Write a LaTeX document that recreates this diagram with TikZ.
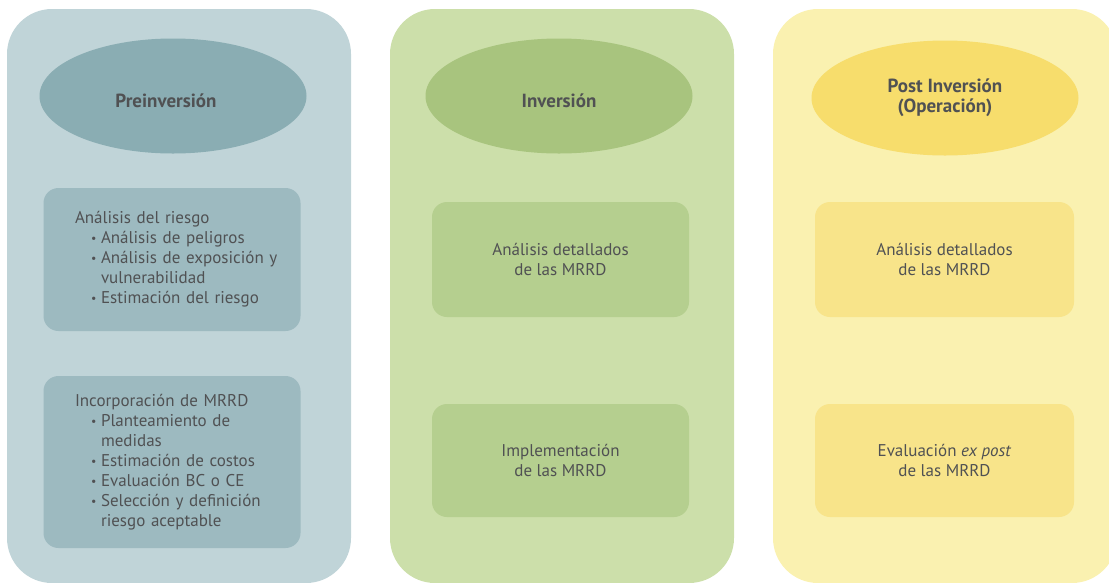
\documentclass[tikz,border=0pt]{standalone}
\usepackage{fontspec}
\setmainfont{PT Sans}
\usetikzlibrary{shapes.geometric}
\definecolor{prebg}{HTML}{C0D4D8}
\definecolor{preel}{HTML}{8AADB3}
\definecolor{prebox}{HTML}{9DBAC0}
\definecolor{invbg}{HTML}{CCDFAA}
\definecolor{invel}{HTML}{A8C47E}
\definecolor{invbox}{HTML}{B5CF8F}
\definecolor{postbg}{HTML}{FAF1B0}
\definecolor{postel}{HTML}{F7DD6C}
\definecolor{postbox}{HTML}{F8E48A}
\definecolor{txt}{HTML}{505153}
\newcommand{\itm}[1]{\hspace*{16pt}\makebox[10pt][l]{\raisebox{1pt}{\scalebox{0.7}{\textbullet}}}\mbox{#1}}
\newcommand{\cnt}[1]{\hspace*{26pt}\mbox{#1}}

\begin{document}
\begin{tikzpicture}[x=1pt, y=-1pt,
  phase/.style={rounded corners=45pt, inner sep=0pt, minimum width=344pt, minimum height=574pt},
  title/.style={ellipse, inner sep=0pt, minimum width=267pt, minimum height=115pt,
    font=\bfseries\fontsize{19}{20}\selectfont, text=txt, align=center},
  task/.style={rounded corners=15pt, inner sep=0pt, minimum width=257pt,
    font=\fontsize{17}{20}\selectfont, text=txt, align=center},
  list/.style={task, text width=194pt, align=left}]
\useasboundingbox (0,0) rectangle (1109,582);
% phase panels
\node[phase, fill=prebg] (pre) at (179,296) {};
\node[phase, fill=invbg] (inv) at (562,296) {};
\node[phase, fill=postbg] (post) at (945,296) {};
% phase titles
\node[title, fill=preel, text height=22pt, text depth=0pt] (pretitle) at (173,96) {\hspace*{-14pt}Preinversión};
\node[title, fill=invel, text height=22pt, text depth=0pt] (invtitle) at (559,96) {Inversión};
\node[title, fill=postel] (posttitle) at (945,98) {Post Inversión\\(Operación)};
% tasks
\node[list, fill=prebox, minimum height=143pt] (riesgo) at (172,259.5)
  {Análisis del riesgo\\
   \itm{Análisis de peligros}\\
   \itm{Análisis de exposición y}\\
   \cnt{vulnerabilidad}\\
   \itm{Estimación del riesgo}};
\node[list, fill=prebox, minimum height=172pt] (mrrd) at (172,462)
  {Incorporación de MRRD\\
   \itm{Planteamiento de}\\
   \cnt{medidas}\\
   \itm{Estimación de costos}\\
   \itm{Evaluación BC o CE}\\
   \itm{Selección y definición}\\
   \cnt{riesgo aceptable}};
\node[task, fill=invbox, minimum height=115pt] (invdet) at (560.5,259.5)
  {Análisis detallados\\de las MRRD};
\node[task, fill=invbox, minimum height=113pt] (invimp) at (560.5,460.5)
  {Implementación\\de las MRRD};
\node[task, fill=postbox, minimum height=115pt, minimum width=259pt] (postdet) at (944.5,259.5)
  {Análisis detallados\\de las MRRD};
\node[task, fill=postbox, minimum height=113pt, minimum width=259pt] (posteval) at (944.5,460.5)
  {Evaluación \textit{ex post}\\de las MRRD};
\end{tikzpicture}
\end{document}
